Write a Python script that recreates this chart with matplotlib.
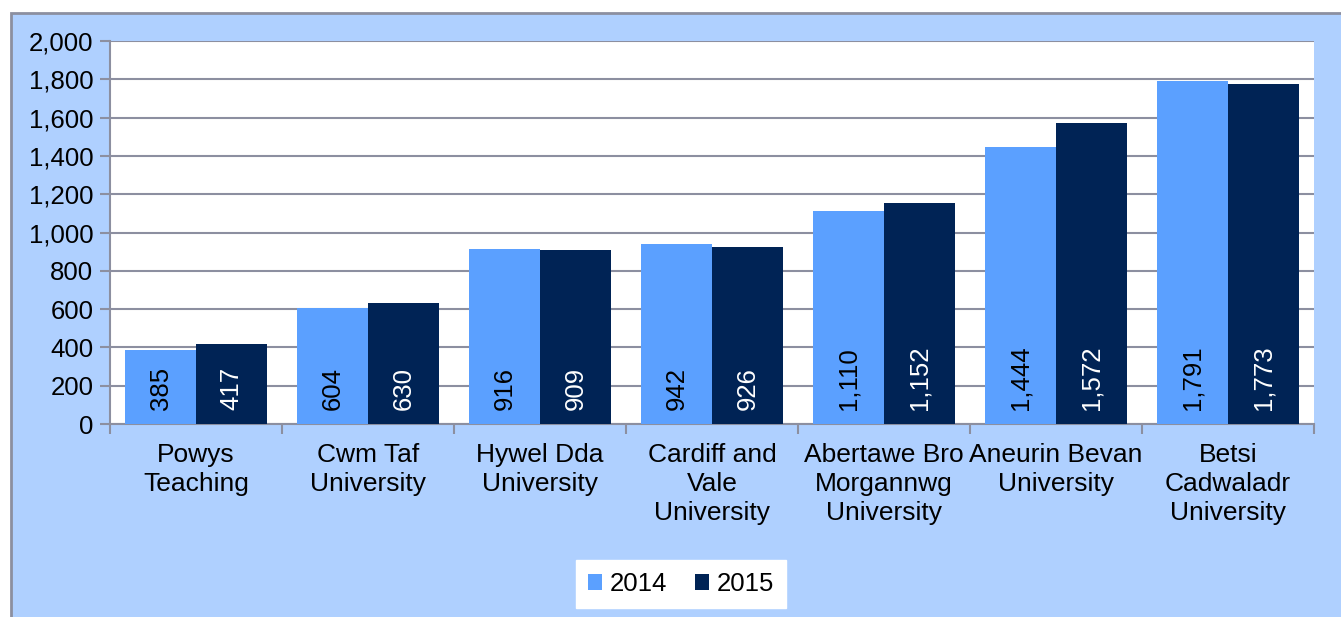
import numpy as np
import matplotlib.pyplot as plt
from matplotlib.patches import Rectangle
from matplotlib.ticker import FuncFormatter, MultipleLocator

plt.rcParams['font.family'] = ['Liberation Sans', 'DejaVu Sans']

categories = ["Powys\nTeaching", "Cwm Taf\nUniversity", "Hywel Dda\nUniversity",
              "Cardiff and\nVale\nUniversity", "Abertawe Bro\nMorgannwg\nUniversity",
              "Aneurin Bevan\nUniversity", "Betsi\nCadwaladr\nUniversity"]
values_2014 = [385, 604, 916, 942, 1110, 1444, 1791]
values_2015 = [417, 630, 909, 926, 1152, 1572, 1773]

c14 = '#5ba0ff'
c15 = '#002355'
grid_c = '#8c8fa0'

fig = plt.figure(figsize=(13.41, 6.17), dpi=100)
fig.patches.append(Rectangle((11 / 1341, -0.05), 1.1, 1 - 13 / 617 + 0.05,
                             transform=fig.transFigure, facecolor='#afd0ff',
                             edgecolor=grid_c, linewidth=2, zorder=-1))
ax = fig.add_axes([110 / 1341, 1 - 424 / 617, 1204 / 1341, 383 / 617])
ax.set_zorder(1)
ax.set_facecolor('white')

x = np.arange(len(categories))
w = 0.41
b1 = ax.bar(x - w / 2, values_2014, w, color=c14, label='2014', zorder=3)
b2 = ax.bar(x + w / 2, values_2015, w, color=c15, label='2015', zorder=3)

for xi, v in zip(x - w / 2, values_2014):
    ax.text(xi, 73, f"{v:,}", rotation=90, ha='center', va='bottom',
            fontsize=18.5, color='black', zorder=4)
for xi, v in zip(x + w / 2, values_2015):
    ax.text(xi, 73, f"{v:,}", rotation=90, ha='center', va='bottom',
            fontsize=18.5, color='white', zorder=4)

ax.set_xlim(-0.5, len(categories) - 0.5)
ax.set_ylim(0, 2000)
ax.yaxis.set_major_locator(MultipleLocator(200))
ax.yaxis.set_major_formatter(FuncFormatter(lambda v, p: f"{int(v):,}"))
ax.grid(axis='y', color=grid_c, linewidth=1.5, zorder=1)
ax.set_axisbelow(True)

ax.set_xticks(x)
ax.set_xticklabels(categories, fontsize=19, linespacing=1.25)
ax.tick_params(axis='x', which='major', length=0, pad=14)
ax.set_xticks(np.arange(-0.5, len(categories) + 0.5, 1), minor=True)
ax.tick_params(axis='x', which='minor', length=7, width=1.5, color=grid_c)
ax.tick_params(axis='y', labelsize=18.5, length=7, width=1.5, color=grid_c, pad=5)

for s in ['top', 'right']:
    ax.spines[s].set_visible(False)
for s in ['left', 'bottom']:
    ax.spines[s].set_color(grid_c)
    ax.spines[s].set_linewidth(1.5)

leg = fig.legend(handles=[b1, b2], loc='center', bbox_to_anchor=(681 / 1341, 1 - 584 / 617),
                 ncol=2, frameon=True, fontsize=18.5, handlelength=0.55, handleheight=0.55,
                 handletextpad=0.3, columnspacing=1.1, borderpad=0.45)
leg.get_frame().set_facecolor('white')
leg.get_frame().set_edgecolor('white')
leg.get_frame().set_boxstyle('square', pad=0)
leg.get_frame().set_alpha(1)

fig.savefig('out.png', dpi=100)
